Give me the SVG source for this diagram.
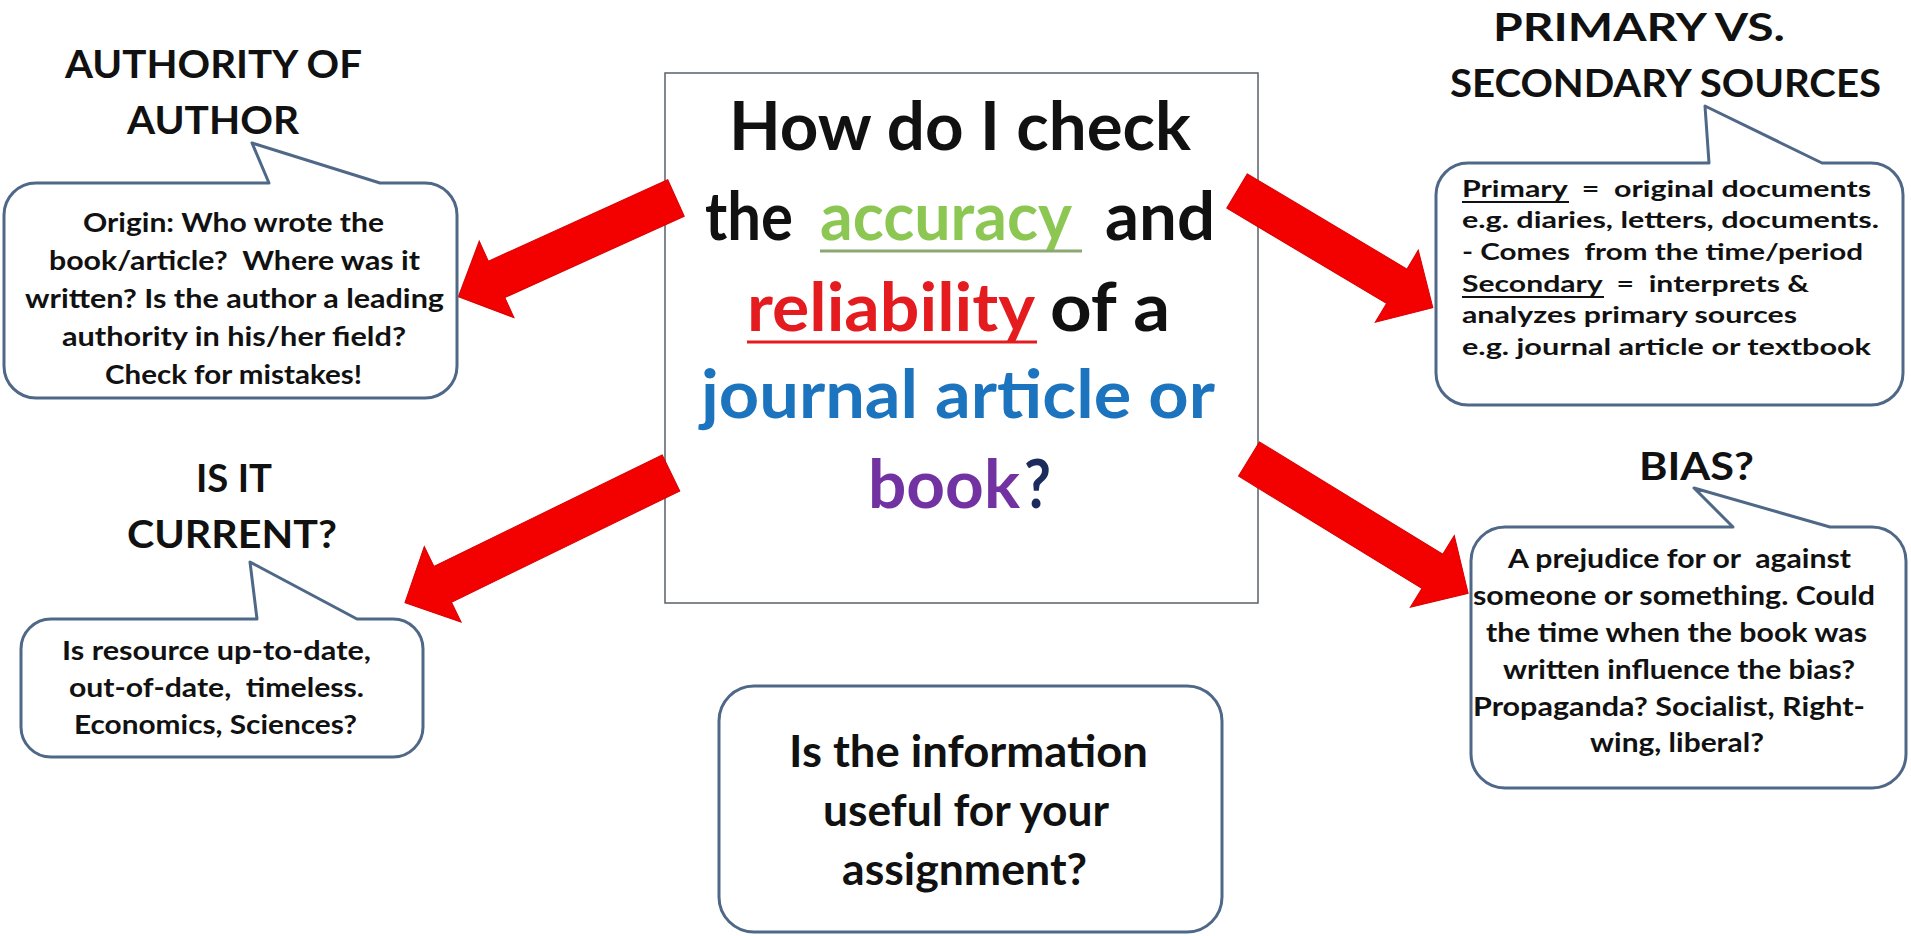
<svg xmlns="http://www.w3.org/2000/svg" width="1911" height="936" viewBox="0 0 1911 936">
<defs>
<style>
.t{font-family:Lato,"Open Sans","Liberation Sans",sans-serif;font-weight:bold;fill:#111;}
.ttl{font-size:39px;}
.b27{font-size:27px;}
.b23{font-size:23.5px;}
.big{font-size:67px;}
.mid{font-size:43px;}
.bub{fill:#fff;stroke:#4F6887;stroke-width:3;stroke-linejoin:round;}
.arr{fill:#F30000;stroke:#D80000;stroke-width:1;}
.ul{stroke-width:3;}
</style>
</defs>
<rect width="1911" height="936" fill="#fff"/>

<g id="center">
<rect x="665" y="73" width="593" height="530" fill="#fff" stroke="#5A6068" stroke-width="1.5"/>
<text class="t big" x="729" y="150" textLength="462" lengthAdjust="spacingAndGlyphs">How do I check</text>
<text class="t big" x="705" y="240" textLength="88" lengthAdjust="spacingAndGlyphs">the</text>
<text class="t big" x="820" y="240" textLength="252" lengthAdjust="spacingAndGlyphs" style="fill:#8CC753">accuracy</text>
<line class="ul" x1="820" y1="251" x2="1082" y2="251" stroke="#8AA870"/>
<text class="t big" x="1105" y="240" textLength="110" lengthAdjust="spacingAndGlyphs">and</text>
<text class="t big" x="747" y="331" textLength="288" lengthAdjust="spacingAndGlyphs" style="fill:#E41B1F">reliability</text>
<line class="ul" x1="747" y1="342" x2="1037" y2="342" stroke="#E41B1F"/>
<text class="t big" x="1050" y="331" textLength="120" lengthAdjust="spacingAndGlyphs">of a</text>
<text class="t big" x="701" y="418" textLength="514" lengthAdjust="spacingAndGlyphs" style="fill:#1B74BD">journal article or</text>
<text class="t big" x="868" y="508" textLength="152" lengthAdjust="spacingAndGlyphs" style="fill:#7232A2">book</text>
<text class="t big" x="1024" y="508" textLength="27" lengthAdjust="spacingAndGlyphs" style="fill:#1C2A5E">?</text>
</g>

<g id="connectors">
<polygon class="arr" transform="translate(676,198) rotate(155.6)" points="0,-20 197,-20 197,-42 239,0 197,42 197,20 0,20"/>
<polygon class="arr" transform="translate(1237,191) rotate(30.8)" points="0,-20 186,-20 186,-42 228,0 186,42 186,20 0,20"/>
<polygon class="arr" transform="translate(671,473) rotate(154)" points="0,-20 254,-20 254,-42 296,0 254,42 254,20 0,20"/>
<polygon class="arr" transform="translate(1249,459) rotate(31.5)" points="0,-20 215,-20 215,-42 257,0 215,42 215,20 0,20"/>
</g>

<g id="authority">
<text class="t ttl" x="65" y="78" textLength="297" lengthAdjust="spacingAndGlyphs">AUTHORITY OF</text>
<text class="t ttl" x="127" y="134" textLength="172" lengthAdjust="spacingAndGlyphs">AUTHOR</text>
<path class="bub" d="M36,183 L269,183 L252,143 L380,183 L425,183 A32,32 0 0 1 457,215 L457,366 A32,32 0 0 1 425,398 L36,398 A32,32 0 0 1 4,366 L4,215 A32,32 0 0 1 36,183 Z"/>
<text class="t b27" x="83" y="232" textLength="301" lengthAdjust="spacingAndGlyphs">Origin: Who wrote the</text>
<text class="t b27" x="49" y="270" textLength="371" lengthAdjust="spacingAndGlyphs" xml:space="preserve">book/article?  Where was it</text>
<text class="t b27" x="25" y="308" textLength="419" lengthAdjust="spacingAndGlyphs">written? Is the author a leading</text>
<text class="t b27" x="62" y="346" textLength="344" lengthAdjust="spacingAndGlyphs">authority in his/her field?</text>
<text class="t b27" x="105" y="384" textLength="257" lengthAdjust="spacingAndGlyphs">Check for mistakes!</text>
</g>

<g id="current">
<text class="t ttl" x="196" y="492" textLength="76" lengthAdjust="spacingAndGlyphs">IS IT</text>
<text class="t ttl" x="127" y="548" textLength="210" lengthAdjust="spacingAndGlyphs">CURRENT?</text>
<path class="bub" d="M51,619 L257,619 L250,562 L357,619 L393,619 A30,30 0 0 1 423,649 L423,727 A30,30 0 0 1 393,757 L51,757 A30,30 0 0 1 21,727 L21,649 A30,30 0 0 1 51,619 Z"/>
<text class="t b27" x="62" y="660" textLength="309" lengthAdjust="spacingAndGlyphs">Is resource up-to-date,</text>
<text class="t b27" x="69" y="697" textLength="295" lengthAdjust="spacingAndGlyphs" xml:space="preserve">out-of-date,  timeless.</text>
<text class="t b27" x="74" y="734" textLength="283" lengthAdjust="spacingAndGlyphs">Economics, Sciences?</text>
</g>

<g id="primary">
<text class="t ttl" x="1493" y="41" textLength="292" lengthAdjust="spacingAndGlyphs">PRIMARY VS.</text>
<text class="t ttl" x="1450" y="97" textLength="431" lengthAdjust="spacingAndGlyphs">SECONDARY SOURCES</text>
<path class="bub" d="M1468,163 L1709,163 L1705,106 L1822,163 L1871,163 A32,32 0 0 1 1903,195 L1903,373 A32,32 0 0 1 1871,405 L1468,405 A32,32 0 0 1 1436,373 L1436,195 A32,32 0 0 1 1468,163 Z"/>
<text class="t b23" x="1462" y="197" textLength="409" lengthAdjust="spacingAndGlyphs" xml:space="preserve">Primary  =  original documents</text>
<line x1="1462" y1="202" x2="1569" y2="202" stroke="#111" stroke-width="1.8"/>
<text class="t b23" x="1462" y="228" textLength="417" lengthAdjust="spacingAndGlyphs">e.g. diaries, letters, documents.</text>
<text class="t b23" x="1462" y="260" textLength="401" lengthAdjust="spacingAndGlyphs" xml:space="preserve">- Comes  from the time/period</text>
<text class="t b23" x="1462" y="292" textLength="347" lengthAdjust="spacingAndGlyphs" xml:space="preserve">Secondary  =  interprets &amp;</text>
<line x1="1462" y1="297" x2="1604" y2="297" stroke="#111" stroke-width="1.8"/>
<text class="t b23" x="1462" y="323" textLength="335" lengthAdjust="spacingAndGlyphs">analyzes primary sources</text>
<text class="t b23" x="1462" y="355" textLength="409" lengthAdjust="spacingAndGlyphs">e.g. journal article or textbook</text>
</g>

<g id="bias">
<text class="t ttl" x="1639" y="480" textLength="115" lengthAdjust="spacingAndGlyphs">BIAS?</text>
<path class="bub" d="M1505,527 L1733,527 L1694,488 L1830,527 L1872,527 A34,34 0 0 1 1906,561 L1906,754 A34,34 0 0 1 1872,788 L1505,788 A34,34 0 0 1 1471,754 L1471,561 A34,34 0 0 1 1505,527 Z"/>
<text class="t b27" x="1508" y="568" textLength="343" lengthAdjust="spacingAndGlyphs" xml:space="preserve">A prejudice for or  against</text>
<text class="t b27" x="1473" y="605" textLength="402" lengthAdjust="spacingAndGlyphs">someone or something. Could</text>
<text class="t b27" x="1486" y="642" textLength="381" lengthAdjust="spacingAndGlyphs">the time when the book was</text>
<text class="t b27" x="1503" y="679" textLength="352" lengthAdjust="spacingAndGlyphs">written influence the bias?</text>
<text class="t b27" x="1473" y="716" textLength="392" lengthAdjust="spacingAndGlyphs">Propaganda? Socialist, Right-</text>
<text class="t b27" x="1590" y="752" textLength="174" lengthAdjust="spacingAndGlyphs">wing, liberal?</text>
</g>

<g id="useful">
<rect class="bub" x="719" y="686" width="503" height="246" rx="35" ry="35"/>
<text class="t mid" x="789" y="767" textLength="359" lengthAdjust="spacingAndGlyphs">Is the information</text>
<text class="t mid" x="823" y="826" textLength="286" lengthAdjust="spacingAndGlyphs">useful for your</text>
<text class="t mid" x="842" y="885" textLength="245" lengthAdjust="spacingAndGlyphs">assignment?</text>
</g>
</svg>
